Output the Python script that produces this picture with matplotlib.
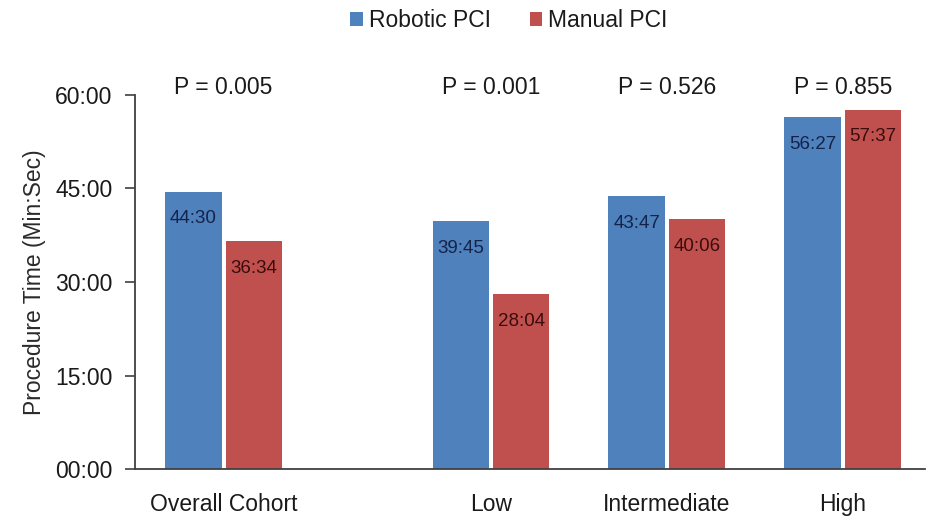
import matplotlib
matplotlib.use("Agg")
import matplotlib.pyplot as plt
from matplotlib.ticker import FuncFormatter, MultipleLocator

plt.rcParams['font.family'] = ['Liberation Sans', 'DejaVu Sans']

# Procedure time by risk group (min:sec)
groups = ["Overall Cohort", "Low", "Intermediate", "High"]
group_pos = [0.0, 1.52, 2.52, 3.52]
robotic = ["44:30", "39:45", "43:47", "56:27"]
manual = ["36:34", "28:04", "40:06", "57:37"]
p_values = ["0.005", "0.001", "0.526", "0.855"]
series_names = ["Robotic PCI", "Manual PCI"]


def to_seconds(s):
    m, sec = s.split(":")
    return int(m) * 60 + int(sec)


def fmt_mmss(v, _pos=None):
    v = int(round(v))
    return f"{v // 60:02d}:{v % 60:02d}"


rob_s = [to_seconds(s) for s in robotic]
man_s = [to_seconds(s) for s in manual]

blue = "#4F81BD"
red = "#C0504D"
text_col = "#1a1a1a"
width = 0.32
gap = 0.012
fs = 16.5

fig = plt.figure(figsize=(9.3, 5.16), dpi=100)
ax = fig.add_axes([0.145, 0.091, 0.85, 0.725])

xb = [p - width / 2 - gap for p in group_pos]
xr = [p + width / 2 + gap for p in group_pos]
bars_b = ax.bar(xb, rob_s, width=width, color=blue, label=series_names[0])
bars_r = ax.bar(xr, man_s, width=width, color=red, label=series_names[1])

# value labels just inside the top of each bar
for x, v in zip(xb, rob_s):
    ax.text(x, v - 260, fmt_mmss(v), ha="center", va="center",
            fontsize=13.5, color="#14234a")
for x, v in zip(xr, man_s):
    ax.text(x, v - 260, fmt_mmss(v), ha="center", va="center",
            fontsize=13.5, color="#3a0c0c")

# significance above each group
for p, pv in zip(group_pos, p_values):
    ax.text(p, 1.02, f"P = {pv}", transform=ax.get_xaxis_transform(),
            ha="center", va="center", fontsize=fs, color=text_col)

ax.set_ylim(0, 3600)
ax.set_xlim(-0.505, 3.99)
ax.yaxis.set_major_locator(MultipleLocator(900))
ax.yaxis.set_major_formatter(FuncFormatter(fmt_mmss))
ax.set_xticks(group_pos)
ax.set_xticklabels(groups)
ax.tick_params(axis="x", length=0, pad=17, labelsize=fs, labelcolor=text_col)
ax.tick_params(axis="y", length=7, width=1.2, color="#404040", pad=9,
               labelsize=fs, labelcolor=text_col)
ax.set_ylabel("Procedure Time (Min:Sec)", fontsize=fs, color="#2a2a2a",
              labelpad=7)

for side in ("top", "right"):
    ax.spines[side].set_visible(False)
for side in ("left", "bottom"):
    ax.spines[side].set_color("#404040")
    ax.spines[side].set_linewidth(1.3)

fig.legend(handles=[bars_b, bars_r], labels=series_names, loc="center",
           bbox_to_anchor=(0.547, 0.96), ncol=2, frameon=False,
           fontsize=fs, handlelength=0.55, handleheight=0.55,
           handletextpad=0.25, columnspacing=1.7, labelcolor=text_col)

fig.savefig("out.png", dpi=100)
